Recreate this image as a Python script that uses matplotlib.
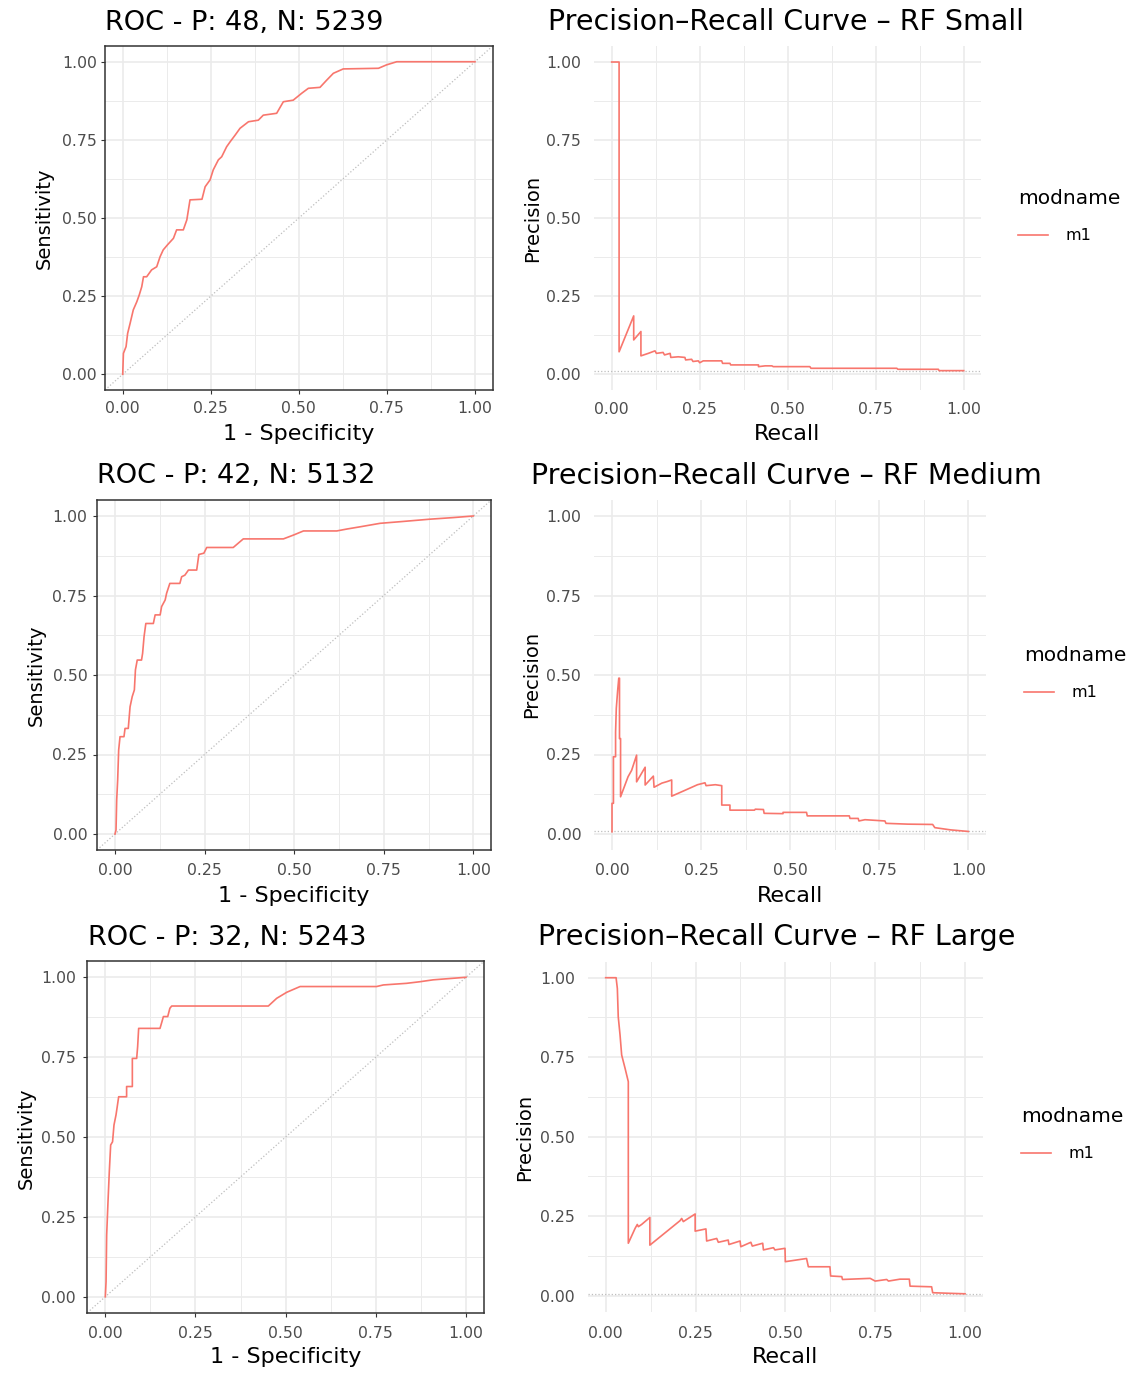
import matplotlib
matplotlib.use('Agg')
import matplotlib.pyplot as plt
from matplotlib.ticker import MultipleLocator

# class counts and model labels for the three random forests
pos_counts = [48, 42, 32]
neg_counts = [5239, 5132, 5243]
model_names = ['RF Small', 'RF Medium', 'RF Large']

tick_vals = [0, 0.25, 0.5, 0.75, 1.0]
tick_labels = ['0.00', '0.25', '0.50', '0.75', '1.00']

# ROC curves (1 - specificity, sensitivity)
roc_small_fpr = [0, 0.002, 0.0095, 0.014, 0.021, 0.030, 0.040, 0.047, 0.054, 0.059, 0.068,
                 0.082, 0.0965, 0.106, 0.115, 0.127, 0.144, 0.153, 0.172, 0.182, 0.191,
                 0.225, 0.234, 0.248, 0.257, 0.2715, 0.281, 0.295, 0.305, 0.319, 0.333,
                 0.357, 0.385, 0.399, 0.437, 0.456, 0.484, 0.508, 0.527, 0.560, 0.579,
                 0.598, 0.626, 0.726, 0.749, 0.778, 1.0]
roc_small_tpr = [0, 0.067, 0.0885, 0.131, 0.163, 0.206, 0.232, 0.254, 0.28, 0.312, 0.312,
                 0.334, 0.344, 0.376, 0.398, 0.414, 0.435, 0.462, 0.462, 0.494, 0.558,
                 0.56, 0.6, 0.622, 0.654, 0.686, 0.696, 0.728, 0.744, 0.765, 0.787,
                 0.808, 0.813, 0.829, 0.835, 0.872, 0.877, 0.899, 0.915, 0.918, 0.941,
                 0.963, 0.977, 0.979, 0.99, 1.0, 1.0]

roc_medium_fpr = [0, 0.0028, 0.0047, 0.0074, 0.0102, 0.014, 0.025, 0.028, 0.037, 0.042,
                  0.048, 0.054, 0.057, 0.062, 0.074, 0.077, 0.081, 0.086, 0.107, 0.112,
                  0.126, 0.13, 0.14, 0.144, 0.153, 0.181, 0.186, 0.195, 0.205, 0.228,
                  0.234, 0.248, 0.256, 0.33, 0.358, 0.47, 0.498, 0.526, 0.619, 0.647,
                  0.684, 0.74, 0.795, 0.879, 0.944, 1.0]
roc_medium_tpr = [0, 0.0126, 0.107, 0.17, 0.264, 0.306, 0.306, 0.332, 0.332, 0.40,
                  0.432, 0.453, 0.516, 0.547, 0.547, 0.568, 0.62, 0.662, 0.662, 0.689,
                  0.689, 0.715, 0.736, 0.757, 0.788, 0.788, 0.809, 0.814, 0.83, 0.83,
                  0.879, 0.883, 0.901, 0.901, 0.928, 0.928, 0.94, 0.953, 0.953, 0.959,
                  0.966, 0.977, 0.982, 0.99, 0.995, 1.0]

roc_large_fpr = [0, 0.002, 0.0037, 0.0074, 0.011, 0.0148, 0.02, 0.024, 0.0296, 0.033,
                 0.037, 0.059, 0.059, 0.0749, 0.0749, 0.0869, 0.0896, 0.0924, 0.1516,
                 0.157, 0.161, 0.173, 0.179, 0.184, 0.452, 0.475, 0.503, 0.54, 0.752,
                 0.771, 0.835, 0.872, 0.909, 1.0]
roc_large_tpr = [0, 0.047, 0.193, 0.2975, 0.391, 0.475, 0.485, 0.5376, 0.569, 0.595,
                 0.626, 0.626, 0.658, 0.658, 0.746, 0.746, 0.783, 0.84, 0.84,
                 0.861, 0.877, 0.877, 0.903, 0.91, 0.91, 0.934, 0.953, 0.971, 0.971,
                 0.976, 0.981, 0.986, 0.992, 1.0]

# precision-recall curves
pr_small_recall = [0, 0.021, 0.021, 0.0625, 0.0625, 0.083, 0.083, 0.104, 0.123, 0.127,
                   0.146, 0.150, 0.166, 0.168, 0.189, 0.208, 0.210, 0.227, 0.231, 0.246,
                   0.250, 0.26, 0.3125, 0.315, 0.336, 0.338, 0.417, 0.417, 0.436, 0.455,
                   0.459, 0.563, 0.566, 0.81, 0.813, 0.928, 0.93, 1.0]
pr_small_precision = [1.0, 1.0, 0.072, 0.187, 0.11, 0.137, 0.059, 0.067, 0.075, 0.067,
                      0.070, 0.062, 0.067, 0.054, 0.056, 0.054, 0.046, 0.048, 0.041, 0.043,
                      0.037, 0.043, 0.043, 0.035, 0.035, 0.030, 0.030, 0.0245, 0.027, 0.027,
                      0.0245, 0.0245, 0.0192, 0.0192, 0.016, 0.016, 0.0117, 0.0117]

pr_medium_recall = [0, 0, 0.004, 0.004, 0.010, 0.010, 0.012, 0.016, 0.019, 0.021, 0.021,
                    0.024, 0.024, 0.035, 0.045, 0.055, 0.069, 0.069, 0.093, 0.093, 0.116,
                    0.118, 0.14, 0.155, 0.1675, 0.1675, 0.20, 0.24, 0.261, 0.264, 0.29,
                    0.308, 0.308, 0.331, 0.331, 0.40, 0.402, 0.425, 0.427, 0.48, 0.48,
                    0.546, 0.548, 0.666, 0.668, 0.691, 0.693, 0.71, 0.766, 0.769, 0.83,
                    0.90, 0.906, 0.95, 1.0]
pr_medium_precision = [0.007, 0.0965, 0.0965, 0.243, 0.243, 0.32, 0.395, 0.453, 0.49, 0.49,
                       0.30, 0.30, 0.117, 0.15, 0.18, 0.20, 0.248, 0.164, 0.21, 0.154,
                       0.182, 0.147, 0.16, 0.165, 0.17, 0.119, 0.135, 0.155, 0.161, 0.152,
                       0.155, 0.152, 0.091, 0.091, 0.075, 0.075, 0.078, 0.077, 0.065, 0.064,
                       0.068, 0.068, 0.057, 0.057, 0.049, 0.049, 0.041, 0.045, 0.041, 0.0335,
                       0.031, 0.03, 0.02, 0.013, 0.008]

pr_large_recall = [0, 0.029, 0.0325, 0.035, 0.04, 0.0445, 0.054, 0.063, 0.063, 0.082,
                   0.088, 0.091, 0.1, 0.123, 0.123, 0.207, 0.2115, 0.216, 0.249, 0.249,
                   0.279, 0.281, 0.309, 0.3135, 0.341, 0.343, 0.374, 0.376, 0.404, 0.408,
                   0.437, 0.439, 0.467, 0.471, 0.499, 0.5, 0.559, 0.564, 0.624, 0.626,
                   0.657, 0.659, 0.736, 0.75, 0.782, 0.787, 0.819, 0.845, 0.847, 0.907,
                   0.91, 0.963, 1.0]
pr_large_precision = [1.0, 1.0, 0.966, 0.877, 0.82, 0.757, 0.715, 0.673, 0.165, 0.212,
                      0.224, 0.217, 0.224, 0.246, 0.159, 0.236, 0.243, 0.233, 0.257, 0.203,
                      0.21, 0.172, 0.18, 0.168, 0.175, 0.161, 0.172, 0.154, 0.168, 0.156,
                      0.165, 0.144, 0.151, 0.144, 0.149, 0.107, 0.117, 0.091, 0.091, 0.062,
                      0.06, 0.051, 0.0545, 0.046, 0.051, 0.046, 0.052, 0.052, 0.030, 0.028,
                      0.0094, 0.0073, 0.006]

roc_curves = [(roc_small_fpr, roc_small_tpr), (roc_medium_fpr, roc_medium_tpr),
              (roc_large_fpr, roc_large_tpr)]
pr_curves = [(pr_small_recall, pr_small_precision), (pr_medium_recall, pr_medium_precision),
             (pr_large_recall, pr_large_precision)]

W, H = 1137, 1374
LINE = '#F8766D'
GRID = '#EBEBEB'
TICK = '#4D4D4D'
REF = '#BEBEBE'

fig = plt.figure(figsize=(W / 100, H / 100), dpi=100)


def add_panel(left, top, right, bottom):
    return fig.add_axes([left / W, 1 - bottom / H, (right - left) / W, (bottom - top) / H])


def ftext(x, y, s, **kw):
    return fig.text(x / W, 1 - y / H, s, **kw)


def style(ax, boxed, xgap, ygap):
    ax.set_xlim(-0.05, 1.05)
    ax.set_ylim(-0.05, 1.05)
    ax.set_xticks(tick_vals)
    ax.set_xticklabels(tick_labels)
    ax.set_yticks(tick_vals)
    ax.set_yticklabels(tick_labels)
    ax.xaxis.set_minor_locator(MultipleLocator(0.125))
    ax.yaxis.set_minor_locator(MultipleLocator(0.125))
    ax.grid(which='major', color=GRID, lw=1.2)
    ax.grid(which='minor', color=GRID, lw=0.7)
    ax.set_axisbelow(True)
    ax.tick_params(which='minor', length=0)
    tlen = 3.0 if boxed else 0.0
    ax.tick_params(axis='x', which='major', length=tlen, width=0.8, color='#333333',
                   pad=xgap * 0.72 - tlen, labelsize=11.3, labelcolor=TICK)
    ax.tick_params(axis='y', which='major', length=tlen, width=0.8, color='#333333',
                   pad=ygap * 0.72 - tlen, labelsize=11.3, labelcolor=TICK)
    for sp in ax.spines.values():
        if boxed:
            sp.set_color('#333333')
            sp.set_linewidth(1.1)
        else:
            sp.set_visible(False)


# pixel layout of each row: roc box, pr box, title/label anchors, tick gaps
rows = [
    dict(roc=(105.1, 46.1, 492.6, 389.9), pr=(594.1, 46.4, 981.3, 389.9),
         roc_title=(105, 30), pr_title=(548, 30), xlab_y=440, roc_xc=299, pr_xc=787,
         roc_ylab=(50, 218), pr_ylab=(538, 218), roc_gap=(11.5, 8.4), pr_gap=(11.8, 13.3),
         leg=(1018, 189)),
    dict(roc=(97.1, 500.1, 491.2, 849.9), pr=(594.2, 500.1, 986.1, 849.9),
         roc_title=(97, 483), pr_title=(531, 484), xlab_y=902, roc_xc=294, pr_xc=790,
         roc_ylab=(42, 675), pr_ylab=(537, 674), roc_gap=(12.8, 9.8), pr_gap=(12.8, 13.0),
         leg=(1024, 646)),
    dict(roc=(87.3, 961.3, 484.0, 1312.7), pr=(587.7, 961.8, 983.0, 1311.6),
         roc_title=(88, 945), pr_title=(538, 945), xlab_y=1363, roc_xc=286, pr_xc=785,
         roc_ylab=(32, 1138), pr_ylab=(530, 1137), roc_gap=(13.0, 11.3), pr_gap=(14.0, 12.7),
         leg=(1021, 1107)),
]

for i, row in enumerate(rows):
    p, n = pos_counts[i], neg_counts[i]

    # ROC panel
    ax = add_panel(*row['roc'])
    style(ax, True, *row['roc_gap'])
    ax.axline((0, 0), (1, 1), color=REF, ls=':', lw=0.9, zorder=2)
    fpr, tpr = roc_curves[i]
    ax.plot(fpr, tpr, color=LINE, lw=1.2, zorder=3)
    ftext(*row['roc_title'], f'ROC - P: {p}, N: {n}', fontsize=19.5, va='baseline', ha='left')
    ftext(row['roc_xc'], row['xlab_y'], '1 - Specificity', fontsize=16, va='baseline', ha='center')
    ftext(*row['roc_ylab'], 'Sensitivity', fontsize=14, rotation=90, rotation_mode='anchor',
          va='baseline', ha='center')

    # precision-recall panel
    ax = add_panel(*row['pr'])
    style(ax, False, *row['pr_gap'])
    ax.axhline(p / (p + n), color=REF, ls=':', lw=0.9, zorder=2)
    rec, prec = pr_curves[i]
    ax.plot(rec, prec, color=LINE, lw=1.2, zorder=3, label='m1')
    ftext(*row['pr_title'], f'Precision\u2013Recall Curve \u2013 {model_names[i]}',
          fontsize=20.5, va='baseline', ha='left')
    ftext(row['pr_xc'], row['xlab_y'], 'Recall', fontsize=16, va='baseline', ha='center')
    ftext(*row['pr_ylab'], 'Precision', fontsize=14, rotation=90, rotation_mode='anchor',
          va='baseline', ha='center')
    lx, ly = row['leg']
    ax.legend(title='modname', loc='upper left', bbox_to_anchor=(lx / W, 1 - ly / H),
              bbox_transform=fig.transFigure, frameon=False, borderpad=0, borderaxespad=0,
              alignment='left', handlelength=1.9, handletextpad=1.1, fontsize=11.5,
              title_fontsize=14.5, labelspacing=1.28)

fig.savefig('out.png', dpi=100)
